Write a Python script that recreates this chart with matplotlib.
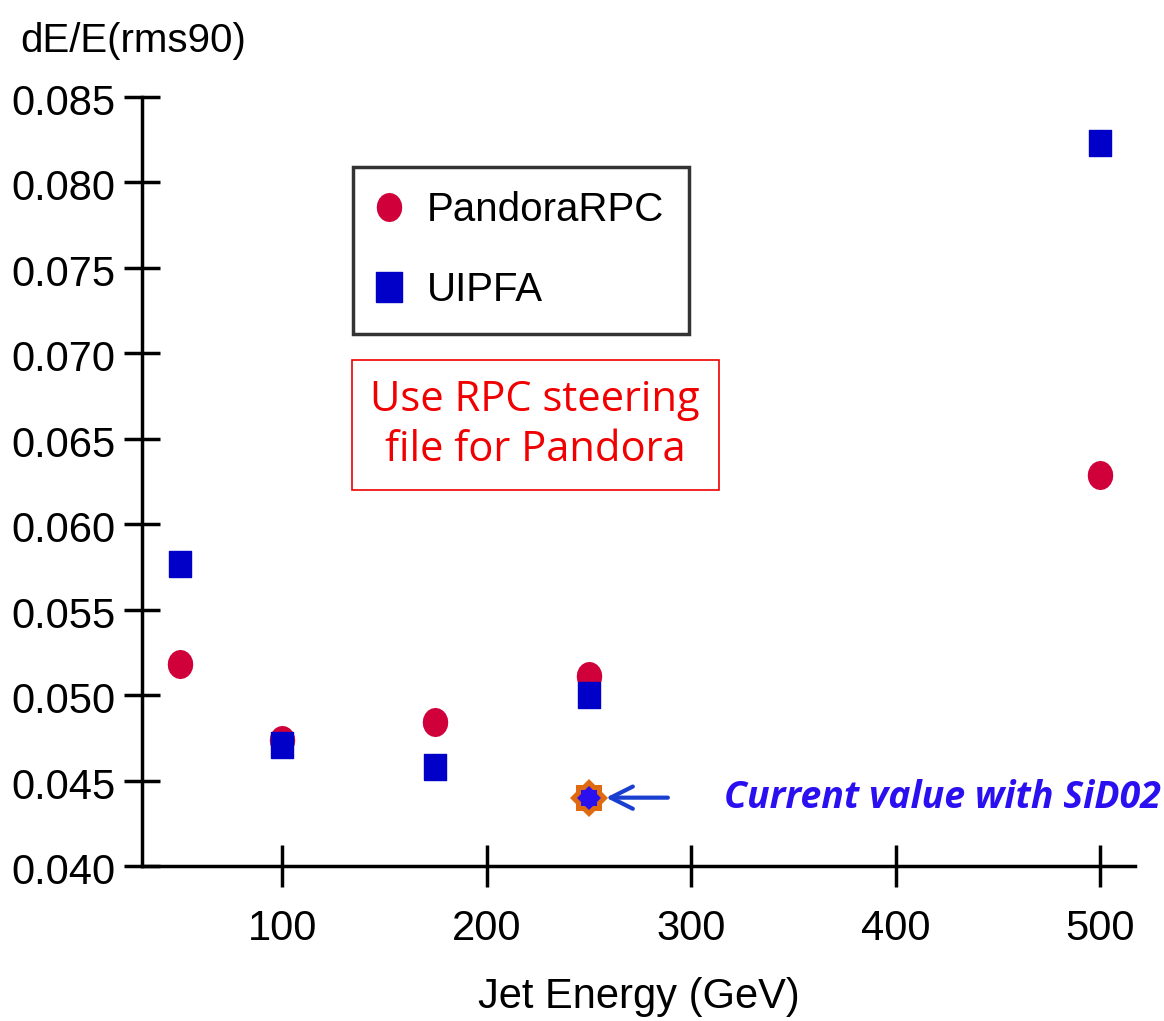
import math
import matplotlib.pyplot as plt
import matplotlib.transforms as mtransforms
from matplotlib.lines import Line2D

# data
energy = [50, 100, 175, 250, 500]
pandora_rpc = [0.0518, 0.0474, 0.0484, 0.0511, 0.0629]
uipfa = [0.0577, 0.0471, 0.0458, 0.0500, 0.0823]
uipfa_err = [0, 0, 0, 0, 0.0003]
sid02_energy = [250]
sid02_value = [0.0440]

x_ticks = [100, 200, 300, 400, 500]
y_ticks = [0.040, 0.045, 0.050, 0.055, 0.060, 0.065, 0.070, 0.075, 0.080, 0.085]

plt.rcParams['font.family'] = ['Liberation Sans', 'DejaVu Sans']

# the original picture is slightly stretched vertically, so markers are too
ellipse = [(0.87 * math.cos(a / 20 * 2 * math.pi), math.sin(a / 20 * 2 * math.pi)) for a in range(21)]
tall_square = [(-0.87, -1), (0.87, -1), (0.87, 1), (-0.87, 1), (-0.87, -1)]

fig = plt.figure(figsize=(11.64, 10.21), dpi=100)
ax = fig.add_axes([0.122, 0.1518, 0.853, 0.7532])

ax.plot(energy, pandora_rpc, linestyle='none', marker=ellipse, color='#d0003a', markersize=20, zorder=3)
ax.errorbar(energy, uipfa, yerr=uipfa_err, fmt='none', ecolor='#3030e0', elinewidth=2, zorder=4)
ax.plot(energy, uipfa, linestyle='none', marker=tall_square, color='#0000c8', markersize=19, zorder=4)

# current SiD02 value: orange 8-point star with blue core
for m in ['s', 'D']:
    ax.plot(sid02_energy, sid02_value, marker=m, color='#e06a10', markersize=19,
            markeredgewidth=0, linestyle='none', zorder=5)
for m in ['s', 'D']:
    ax.plot(sid02_energy, sid02_value, marker=m, color='#2a10f0', markersize=12,
            markeredgewidth=0, linestyle='none', zorder=6)
ax.annotate('', xy=(257, sid02_value[0]), xytext=(290, sid02_value[0]),
            arrowprops=dict(arrowstyle='->', color='#1a3fd0', lw=3, mutation_scale=40))
ax.text(316, sid02_value[0], 'Current value with SiD02', color='#2a10f0', fontsize=27,
        fontweight='bold', fontstyle='italic', family=['Open Sans', 'DejaVu Sans'],
        va='center', ha='left')

ax.set_xlim(31.5, 517)
ax.set_ylim(0.040, 0.085)
ax.set_xticks(x_ticks)
ax.set_yticks(y_ticks)
ax.set_yticklabels(['%.3f' % v for v in y_ticks])
ax.spines['top'].set_visible(False)
ax.spines['right'].set_visible(False)
ax.spines['left'].set_linewidth(2.5)
ax.spines['bottom'].set_linewidth(2.5)
ax.tick_params(axis='y', direction='inout', length=26, width=2.5, labelsize=30, pad=6)
ax.tick_params(axis='x', direction='inout', length=30, width=2.5, labelsize=30, pad=16)
shift = mtransforms.ScaledTranslation(0, -7 / 100, fig.dpi_scale_trans)
for t in ax.get_yticklabels():
    t.set_va('center')
    t.set_transform(t.get_transform() + shift)

ax.set_xlabel('Jet Energy (GeV)', fontsize=30, labelpad=20)
fig.text(0.017, 0.96, 'dE/E(rms90)', fontsize=29, ha='left', va='center')

handles = [Line2D([], [], linestyle='none', marker=ellipse, color='#d0003a', markersize=20),
           Line2D([], [], linestyle='none', marker=tall_square, color='#0000c8', markersize=21)]
leg = ax.legend(handles, ['PandoraRPC', 'UIPFA'], loc='upper left', bbox_to_anchor=(0.212, 0.909),
                fontsize=29, frameon=True, fancybox=False, edgecolor='black', handletextpad=0.65,
                borderpad=0.6, labelspacing=1.05, handlelength=0.6, borderaxespad=0)
leg.get_frame().set_linewidth(2.5)

ax.text(0.396, 0.5735, 'Use RPC steering\nfile for Pandora', transform=ax.transAxes,
        color='#f00000', fontsize=30, family=['Open Sans', 'DejaVu Sans'],
        ha='center', va='center', linespacing=1.25,
        bbox=dict(boxstyle='square,pad=0.45', facecolor='white', edgecolor='#f00000', linewidth=1.2))

fig.savefig('out.png', dpi=100)
